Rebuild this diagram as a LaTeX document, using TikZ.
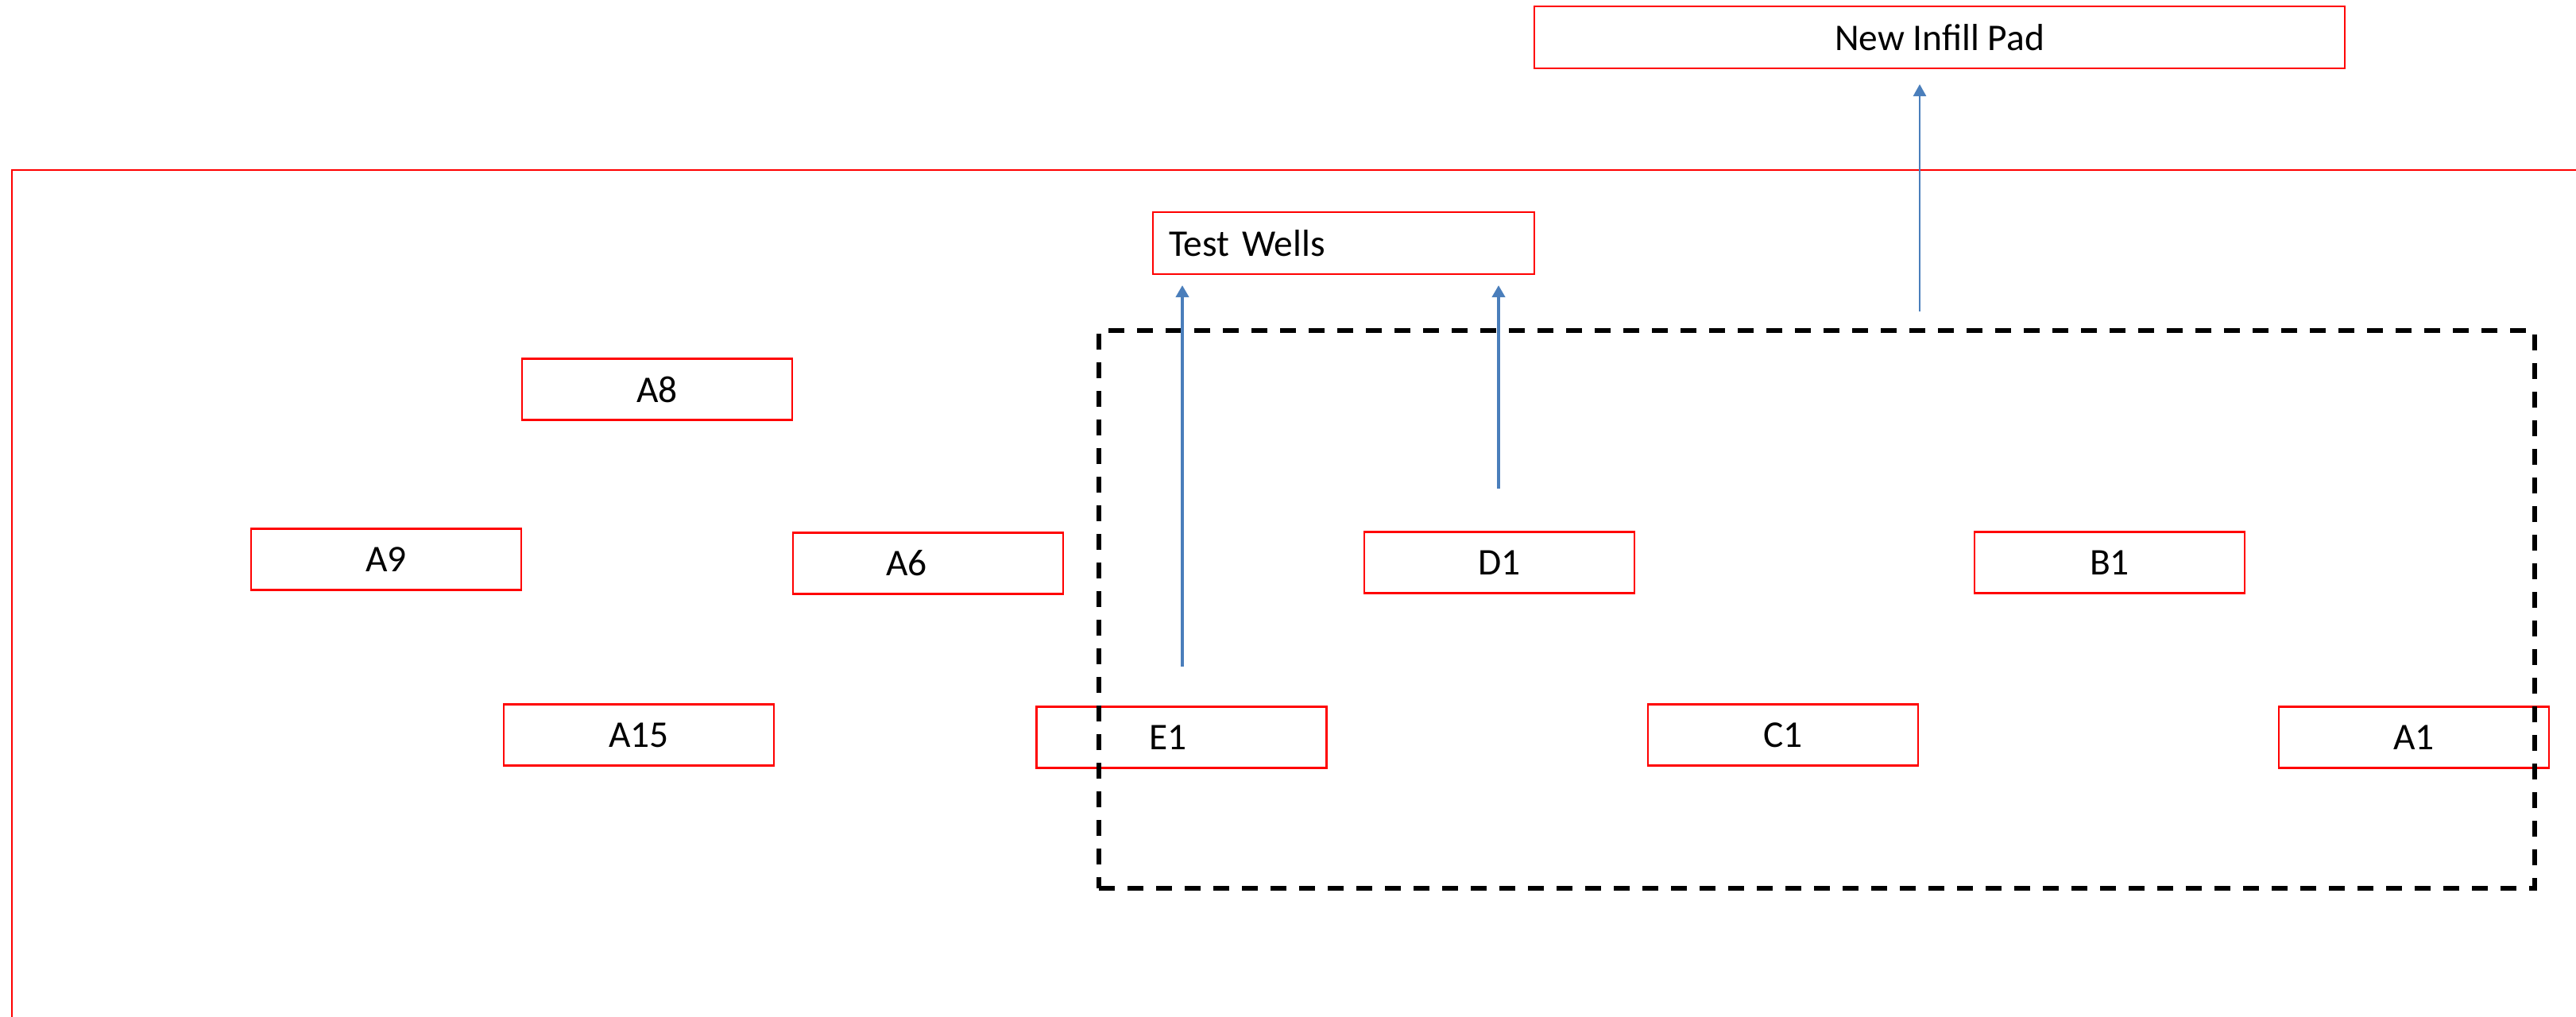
\documentclass[tikz,border=0pt]{standalone}
\usepackage{fontspec}
\setmainfont{Carlito}
\usepackage{tikz}
\usetikzlibrary{arrows.meta}
\definecolor{wellred}{RGB}{255,0,0}
\definecolor{flowblue}{RGB}{74,126,187}
\tikzstyle{well}=[draw=wellred, line width=0.6pt, inner sep=0pt, minimum width=3.4cm, minimum height=0.77cm, font=\fontsize{13.5pt}{16pt}\selectfont]
\tikzstyle{fence}=[draw, line width=1.7pt, dash pattern=on 0.2cm off 0.16cm, inner sep=0pt]
\tikzstyle{flow}=[draw=flowblue, line width=1.3pt, -{Triangle[width=0.16cm, length=0.15cm]}]

\begin{document}
\begin{tikzpicture}
        \useasboundingbox (0, 0) rectangle (32.42, -12.80);
        % lease line
        \draw[wellred, line width=0.6pt] (0.15, -12.80) -- (0.15, -2.14) -- (32.42, -2.14);
        \node[well] (A8) at (8.27, -4.90) {A8};
        \node[well] (A9) at (4.86, -7.04) {A9};
        \node[well] (A6) at (11.68, -7.09) {\hspace{-0.54cm}A6};
        \node[well] (D1) at (18.87, -7.08) {D1};
        \node[well] (B1) at (26.55, -7.08) {B1};
        \node[well] (A15) at (8.04, -9.25) {A15};
        \node[well, minimum width=3.65cm] (E1) at (14.87, -9.28) {\hspace{-0.34cm}E1};
        \node[well] (C1) at (22.44, -9.25) {C1};
        \node[well] (A1) at (30.38, -9.28) {A1};
        \node[well, minimum height=0.78cm, text width=4.4cm, align=left, inner xsep=0.2cm] (TW) at (16.91, -3.06) {Test Wells};
        \node[well, minimum width=10.2cm, minimum height=0.78cm] (NIP) at (24.41, -0.47) {New Infill Pad};
        \node[fence, minimum width=18.07cm, minimum height=7.02cm] (pad) at (22.865, -7.67) {};
        \coordinate (E1t) at (14.88, -8.39);
        \coordinate (D1t) at (18.86, -6.15);
        \coordinate (padt) at (24.16, -3.92);
        \draw[flow, shorten >=0.13cm] (E1t) -- (E1t |- TW.south);
        \draw[flow, shorten >=0.13cm] (D1t) -- (D1t |- TW.south);
        \draw[flow, line width=0.7pt, shorten >=0.19cm] (padt) -- (padt |- NIP.south);
    \end{tikzpicture}
\end{document}
